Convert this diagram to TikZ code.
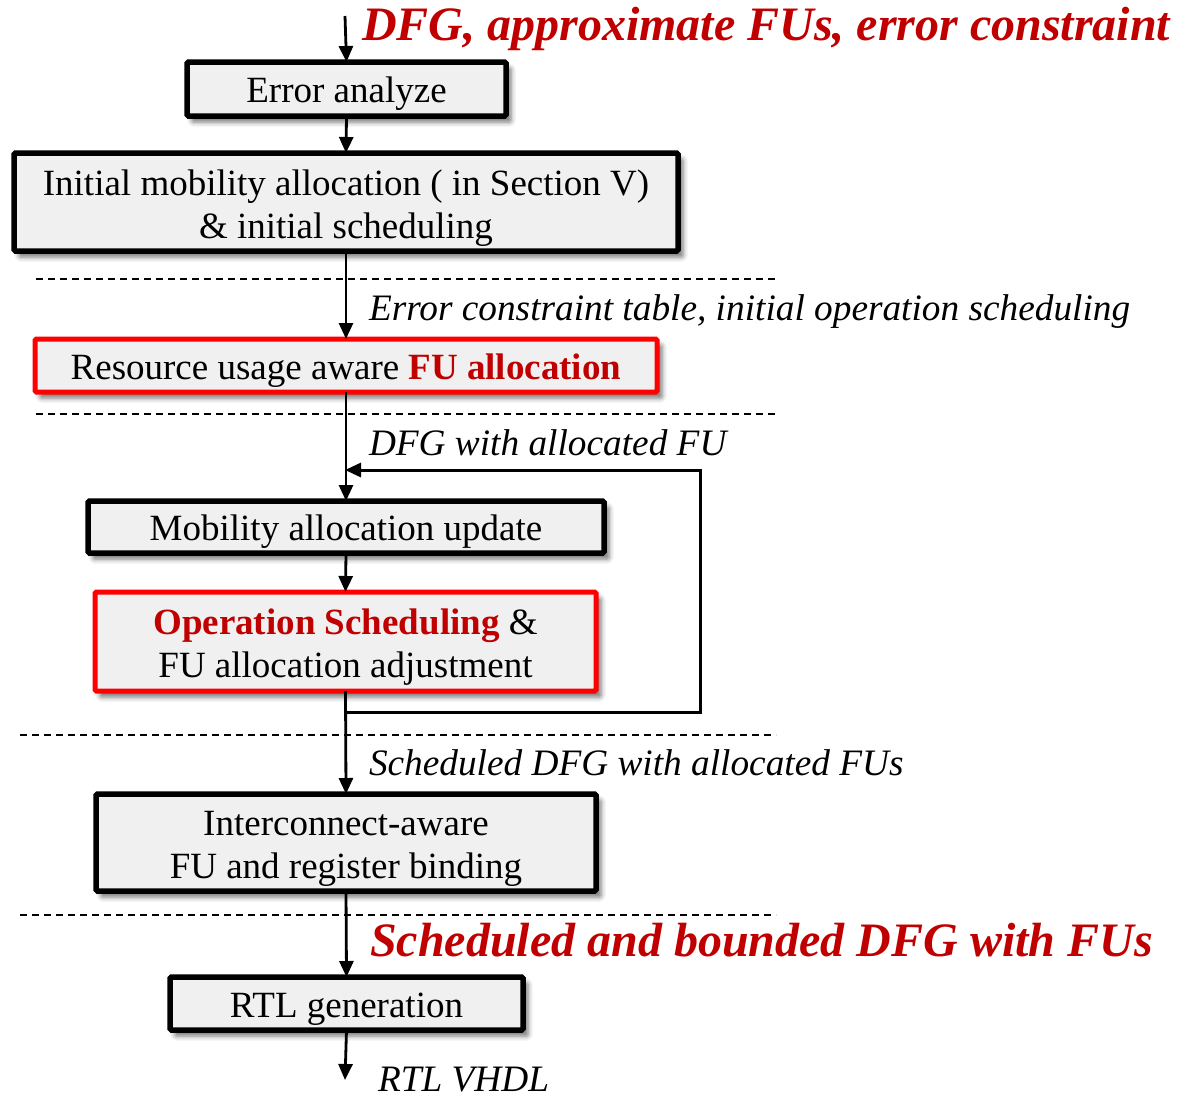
\documentclass[tikz,border=0pt]{standalone}
\usepackage{fontspec}
\setmainfont{Liberation Serif}
\usetikzlibrary{arrows.meta,shadows.blur}
\definecolor{dred}{HTML}{C00000}
\definecolor{boxfill}{HTML}{F0F0F0}
\newcommand{\toplift}{\rule{0pt}{37pt}}
\begin{document}
\begin{tikzpicture}[x=1pt,y=-1pt,
  every node/.style={inner sep=0pt,outer sep=0pt},
  procbox/.style={draw=black,line width=5.5pt,fill=boxfill,align=center,
    rounded corners=1.5pt,font=\fontsize{37}{43}\selectfont,
    blur shadow={shadow xshift=5pt,shadow yshift=-6pt,shadow blur radius=5pt,shadow opacity=55}},
  oneline/.style={text height=27pt,text depth=0pt},
  redbox/.style={procbox,draw=red,line width=5pt},
  arr/.style={line width=2.8pt,-{Triangle[length=16pt,width=14pt]}},
  sep/.style={line width=1.6pt,dash pattern=on 7pt off 5pt},
  lbl/.style={anchor=base west,font=\fontsize{37.3}{40}\selectfont\itshape},
  redlbl/.style={anchor=base west,text=dred,font=\fontsize{48}{50}\selectfont\bfseries\itshape}]
\useasboundingbox (0,0) rectangle (1185,1093);

% process boxes
\node[procbox,oneline,minimum width=319pt,minimum height=54pt] (e1) at (346.5,89) {Error analyze};
\node[procbox,minimum width=664pt,minimum height=98pt] (e2) at (346,202) {\toplift Initial mobility allocation ( in Section V)\\\& initial scheduling};
\node[redbox,oneline,minimum width=622pt,minimum height=53pt] (e3) at (346,365.5) {Resource usage aware \textcolor{dred}{\bfseries FU allocation}};
\node[procbox,oneline,minimum width=516pt,minimum height=52pt] (e4) at (346,527) {Mobility allocation update};
\node[redbox,minimum width=501pt,minimum height=99pt] (e5) at (345.5,641.5) {\toplift\textcolor{dred}{\bfseries Operation Scheduling} \&\\FU allocation adjustment};
\node[procbox,minimum width=500pt,minimum height=97pt] (e6) at (346,842.5) {\toplift Interconnect-aware\\FU and register binding};
\node[procbox,oneline,minimum width=353pt,minimum height=53pt] (e7) at (346.5,1003.5) {RTL generation};

% free ends of the input and output arrows, feedback corners
\coordinate (in) at (345,16);
\coordinate (out) at (345,1080);
\coordinate (fb1) at (345,712);
\coordinate (fb2) at (700,712);
\coordinate (fb3) at (700,470);
\coordinate (fb4) at (345,470);

% separators between the phases
\draw[sep] (36,279) -- (776,279);
\draw[sep] (36,414) -- (776,414);
\draw[sep] (20,735) -- (776,735);
\draw[sep] (20,915) -- (776,915);

% main flow
\draw[arr] (in) -- (e1.north);
\draw[arr] (e1.south) -- (e2.north);
\draw[arr] (e2.south) -- (e3.north);
\draw[arr] (e3.south) -- (e4.north);
\draw[arr] (e4.south) -- (e5.north);
\draw[arr] (e5.south) -- (e6.north);
\draw[arr] (e6.south) -- (e7.north);
\draw[arr] (e7.south) -- (out);

% feedback loop
\draw[arr,line width=3pt,line join=miter] (fb1) -- (fb2) -- (fb3) -- (fb4);

% data labels
\node[redlbl] (t0) at (362,40) {DFG, approximate FUs, error constraint};
\node[lbl] (t1) at (369,320) {Error constraint table, initial operation scheduling};
\node[lbl] (t2) at (369,455) {DFG with allocated FU};
\node[lbl] (t3) at (369,775) {Scheduled DFG with allocated FUs};
\node[redlbl] (t4) at (370,956) {Scheduled and bounded DFG with FUs};
\node[lbl] (t5) at (378,1091) {RTL VHDL};
\end{tikzpicture}
\end{document}
